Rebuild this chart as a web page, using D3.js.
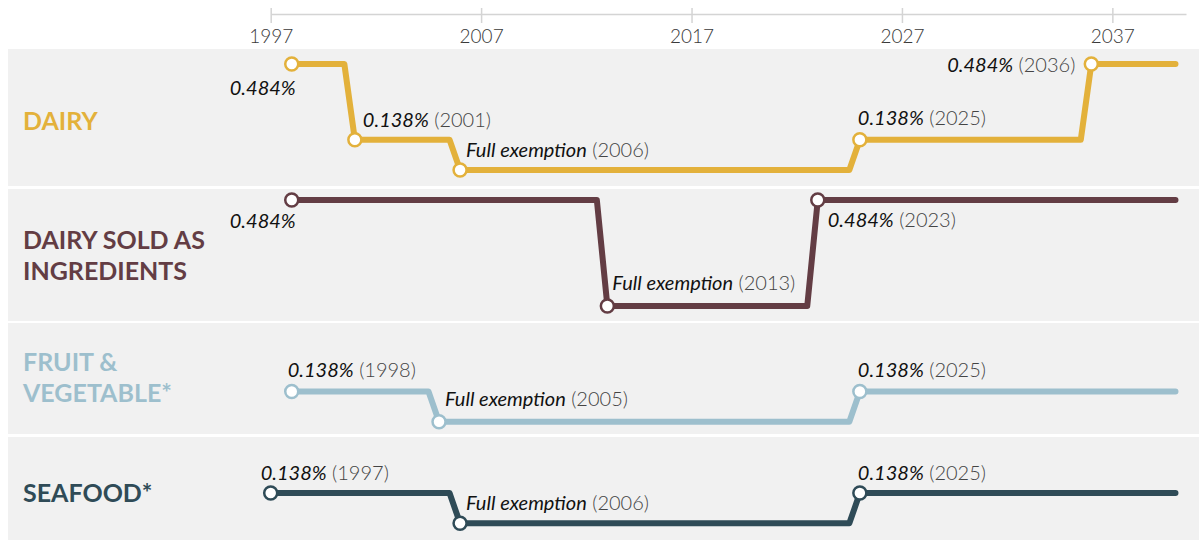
<!DOCTYPE html>
<html>
<head>
<meta charset="utf-8">
<script src="https://cdn.jsdelivr.net/npm/d3@7"></script>
<style>
  body { margin: 0; background: #fff; }
  svg { display: block; font-family: Lato, "Open Sans", sans-serif; }
</style>
</head>
<body>
<div id="chart"></div>
<script>
// levy rates by category (percent), year of each change
const categories = ["DAIRY", "DAIRY SOLD AS\nINGREDIENTS", "FRUIT &\nVEGETABLE*", "SEAFOOD*"];
const dairyYears = [1998, 2001, 2006, 2025, 2036];
const dairyRates = [0.484, 0.138, 0, 0.138, 0.484];
const ingredientYears = [1998, 2013, 2023];
const ingredientRates = [0.484, 0, 0.484];
const fruitYears = [1998, 2005, 2025];
const fruitRates = [0.138, 0, 0.138];
const seafoodYears = [1997, 2006, 2025];
const seafoodRates = [0.138, 0, 0.138];
const tickYears = [1997, 2007, 2017, 2027, 2037];
const lastYear = 2040;

const colors = ["#e3b13b", "#633d44", "#9dbfcd", "#2f4b57"];

const width = 1199, height = 540;
const margin = { left: 270.7, right: 13 };

// row boxes: top, height, zero line offset, name nudge
const rows = [
  { top: 49, h: 137, base: 121, nudge: 3 },
  { top: 189, h: 132, base: 117, nudge: 0 },
  { top: 323, h: 111, base: 98.7, nudge: -1 },
  { top: 437, h: 111, base: 86.3, nudge: 0 }
];

// where each point label sits relative to its circle [dx, dy, anchor, showYear]
const labelPlaces = [
  [[4, 31, "end", false], [8, -13, "start", true], [6, -13, "start", true], [-2, -15, "start", true], [-16, 8, "end", true]],
  [[4, 28, "end", false], [5, -16, "start", true], [10, 27, "start", true]],
  [[-4, -14, "start", true], [6, -16, "start", true], [-2, -14, "start", true]],
  [[-10, -13, "start", true], [6, -13, "start", true], [-2, -13, "start", true]]
];

const series = [
  { years: dairyYears, rates: dairyRates },
  { years: ingredientYears, rates: ingredientRates },
  { years: fruitYears, rates: fruitRates },
  { years: seafoodYears, rates: seafoodRates }
];

const svg = d3.select("#chart").append("svg")
  .attr("width", width)
  .attr("height", height);

const x = d3.scaleLinear()
  .domain([1997, 2040.5])
  .range([margin.left, width - margin.right]);

// backgrounds
svg.selectAll(".band")
  .data(rows)
  .join("rect")
  .attr("class", "band")
  .attr("x", 8)
  .attr("y", d => d.top)
  .attr("width", width - 8)
  .attr("height", d => d.h)
  .attr("fill", "#f1f1f1");

// axis
const xAxis = d3.axisBottom(x).tickValues(tickYears).tickFormat(d3.format("d")).tickSizeOuter(0);
const gx = svg.append("g")
  .attr("transform", "translate(0,14)")
  .call(xAxis);
gx.select(".domain").attr("stroke", "#d4d4d4").attr("stroke-width", 1.5);
gx.selectAll(".tick line").attr("y1", -6).attr("y2", 9).attr("stroke", "#d4d4d4").attr("stroke-width", 1.5);
gx.selectAll(".tick text")
  .attr("y", 29).attr("dy", null)
  .attr("font-family", "Lato, sans-serif")
  .attr("font-size", 19)
  .attr("font-weight", 300)
  .attr("fill", "#3a3a3a");

series.forEach((s, i) => {
  const row = rows[i];
  const y = d3.scaleLinear()
    .domain([0, 0.484])
    .range([row.top + row.base, row.top + row.base - 106]);

  const g = svg.append("g");

  // category name
  const lines = categories[i].split("\n");
  const lineH = 31;
  const midY = row.top + row.h / 2 + row.nudge;
  const name = g.append("text")
    .attr("x", 23)
    .attr("fill", colors[i])
    .attr("font-size", 25)
    .attr("font-weight", 700);
  lines.forEach((ln, k) => {
    name.append("tspan")
      .attr("x", 23)
      .attr("y", midY + 9 + (k - (lines.length - 1) / 2) * lineH)
      .text(ln);
  });

  // stepped path with a short slant into each change
  const pts = [[s.years[0], s.rates[0]]];
  for (let k = 1; k < s.years.length; k++) {
    pts.push([s.years[k] - 0.5, s.rates[k - 1]]);
    pts.push([s.years[k], s.rates[k]]);
  }
  pts.push([lastYear, s.rates[s.rates.length - 1]]);

  const line = d3.line().x(d => x(d[0])).y(d => y(d[1]));
  g.append("path")
    .attr("d", line(pts))
    .attr("fill", "none")
    .attr("stroke", colors[i])
    .attr("stroke-width", 6)
    .attr("stroke-linejoin", "round")
    .attr("stroke-linecap", "round");

  const pointData = s.years.map((yr, k) => ({ year: yr, rate: s.rates[k], place: labelPlaces[i][k] }));

  g.selectAll("circle")
    .data(pointData)
    .join("circle")
    .attr("cx", d => x(d.year))
    .attr("cy", d => y(d.rate))
    .attr("r", 6.5)
    .attr("fill", "#fff")
    .attr("stroke", colors[i])
    .attr("stroke-width", 2.5);

  const labels = g.selectAll(".lbl")
    .data(pointData)
    .join("text")
    .attr("class", "lbl")
    .attr("x", d => x(d.year) + d.place[0])
    .attr("y", d => y(d.rate) + d.place[1])
    .attr("text-anchor", d => d.place[2])
    .attr("font-size", 20);

  labels.append("tspan")
    .attr("font-style", "italic")
    .attr("font-weight", 400)
    .attr("fill", "#111")
    .text(d => d.rate === 0 ? "Full exemption" : d.rate.toFixed(3) + "%");

  labels.filter(d => d.place[3]).append("tspan")
    .attr("font-weight", 300)
    .attr("fill", "#444")
    .text(d => " (" + d.year + ")");
});
</script>
</body>
</html>
